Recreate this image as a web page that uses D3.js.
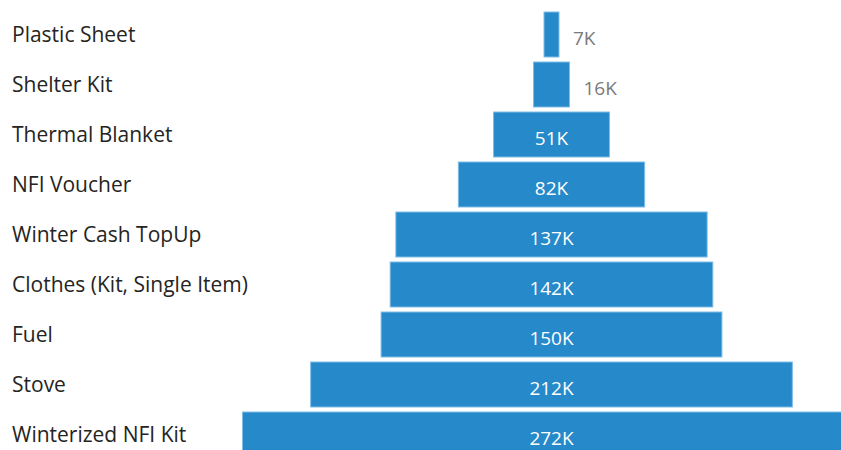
<!DOCTYPE html>
<html>
<head>
<meta charset="utf-8">
<script src="https://cdn.jsdelivr.net/npm/d3@7"></script>
<style>
  html, body { margin: 0; padding: 0; background: #fff; overflow: hidden; }
  svg { display: block; }
</style>
</head>
<body>
<svg id="chart" width="841" height="450"></svg>
<script>
const categories = ["Plastic Sheet", "Shelter Kit", "Thermal Blanket", "NFI Voucher",
  "Winter Cash TopUp", "Clothes (Kit, Single Item)", "Fuel", "Stove", "Winterized NFI Kit"];
const values = [6600, 15800, 51000, 82000, 137000, 142000, 150000, 212000, 272000];
const valueLabels = ["7K", "16K", "51K", "82K", "137K", "142K", "150K", "212K", "272K"];

const data = categories.map((c, i) => ({ cat: c, v: values[i], lab: valueLabels[i] }));

const svg = d3.select("#chart");
const cx = 551.5;
const halfMax = 309;

const y = d3.scaleBand().domain(categories).range([9.5, 459.5]).paddingInner(0.1).paddingOuter(0.05);
const w = d3.scaleLinear().domain([0, d3.max(values)]).range([0, halfMax * 2]);

const font = "'Open Sans', 'Noto Sans', sans-serif";

svg.append("g").selectAll("text").data(data).join("text")
  .attr("x", 12)
  .attr("y", d => y(d.cat) + y.bandwidth() / 2)
  .attr("dy", "0.35em")
  .attr("font-family", font)
  .attr("font-size", 21)
  .attr("fill", "#252423")
  .text(d => d.cat);

svg.append("g").selectAll("rect").data(data).join("rect")
  .attr("x", d => cx - w(d.v) / 2)
  .attr("y", d => y(d.cat))
  .attr("width", d => w(d.v))
  .attr("height", y.bandwidth())
  .attr("fill", "#2589ca")
  .attr("stroke", "#7fbde6")
  .attr("stroke-width", 1);

svg.append("g").selectAll("text").data(data).join("text")
  .each(function(d) {
    const inside = w(d.v) > 60;
    d3.select(this)
      .attr("x", inside ? cx : cx + w(d.v) / 2 + 14)
      .attr("text-anchor", inside ? "middle" : "start")
      .attr("fill", inside ? "#ffffff" : "#7a7a7a");
  })
  .attr("y", d => y(d.cat) + y.bandwidth() / 2 + 3.5)
  .attr("dy", "0.35em")
  .attr("font-family", font)
  .attr("font-size", 19)
  .text(d => d.lab);
</script>
</body>
</html>
